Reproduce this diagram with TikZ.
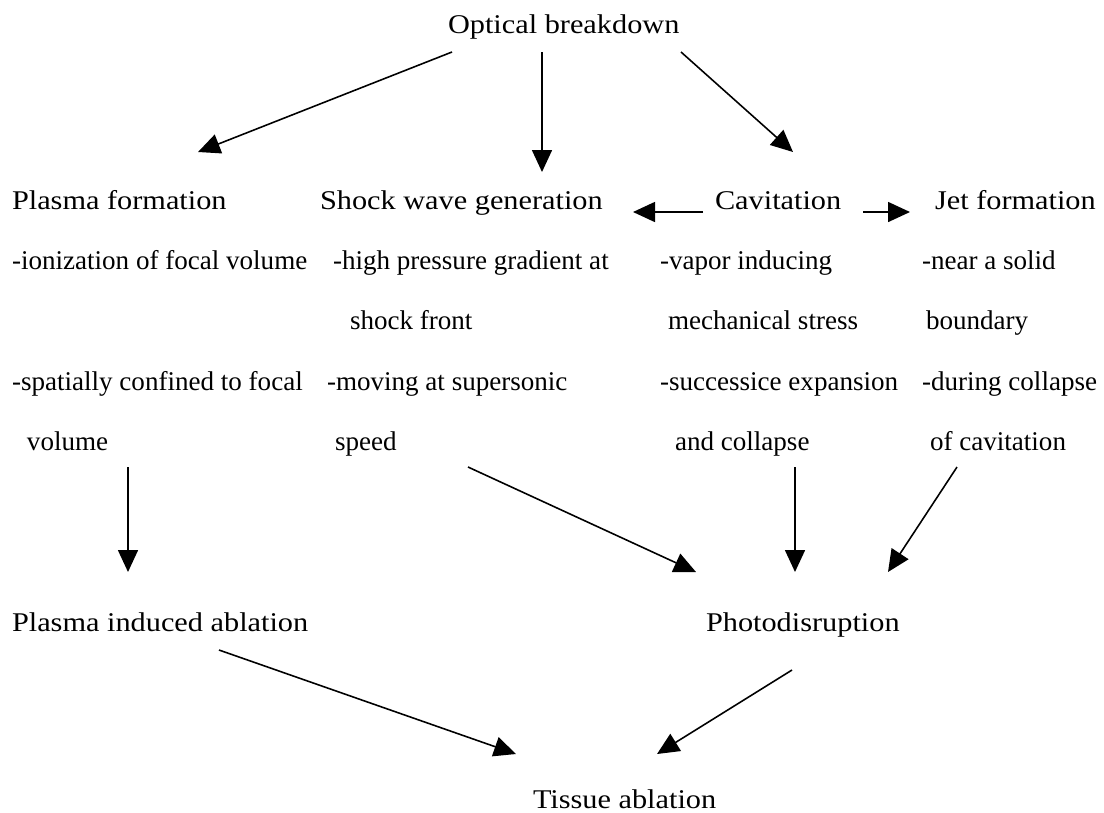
\documentclass[tikz,border=0pt]{standalone}
\usepackage{fontspec}
\setmainfont{Liberation Serif}[FakeStretch=1.12]
\newfontfamily\itemfont{Liberation Serif}
\usetikzlibrary{arrows.meta}

\begin{document}
\begin{tikzpicture}[
  x=0.02cm, y=-0.02cm,
  % ---- styles ----
  txt/.style={%
    anchor=base west, inner sep=0pt, outer sep=0pt,
    font=\fontsize{15.4}{18}\selectfont,
  },
  itm/.style={%
    txt, font=\itemfont\fontsize{15.4}{18}\selectfont,
  },
  flow/.style={%
    draw=black, line width=0.9pt,
    -{Triangle[length=0.44cm, width=0.4cm]},
  },
]

\useasboundingbox (0,0) rectangle (1104,812);

% =========================================================
% top  --  optical breakdown
% =========================================================
\node[txt] (ob) at (448,33) {Optical breakdown};

% =========================================================
% mechanisms  (headings + bullet lines)
% =========================================================
\node[txt] (pf)  at (12,209)  {Plasma formation};
\node[txt] (sw)  at (320,209) {Shock wave generation};
\node[txt] (cav) at (715,209) {Cavitation};
\node[txt] (jet) at (935,209) {Jet formation};

\node[itm] (pf1) at (12,269)  {-ionization of focal volume};
\node[itm] (pf2) at (12,390)  {-spatially confined to focal};
\node[itm] (pf3) at (27,450)  {volume};

\node[itm] (sw1) at (333,269) {-high pressure gradient at};
\node[itm] (sw2) at (350,329) {shock front};
\node[itm] (sw3) at (327,390) {-moving at supersonic};
\node[itm] (sw4) at (335,450) {speed};

\node[itm] (cv1) at (660,269) {-vapor inducing};
\node[itm] (cv2) at (668,329) {mechanical stress};
\node[itm] (cv3) at (660,390) {-successice expansion};
\node[itm] (cv4) at (675,450) {and collapse};

\node[itm] (jt1) at (922,269) {-near a solid};
\node[itm] (jt2) at (926,329) {boundary};
\node[itm] (jt3) at (922,390) {-during collapse};
\node[itm] (jt4) at (930,450) {of cavitation};

% =========================================================
% outcomes
% =========================================================
\node[txt] (pia)   at (12,631)  {Plasma induced ablation};
\node[txt] (photo) at (706,631) {Photodisruption};
\node[txt] (tis)   at (533,808) {Tissue ablation};

% =========================================================
% connector ends
% =========================================================
\coordinate (obA)   at (452,52);
\coordinate (obB)   at (542,52);
\coordinate (obC)   at (681,52);
\coordinate (pfIn)  at (198,152);
\coordinate (swIn)  at (542,172);
\coordinate (cavIn) at (793,152);

\coordinate (cavL)  at (703,212);
\coordinate (swR)   at (633,212);
\coordinate (cavR)  at (863,212);
\coordinate (jetL)  at (910,212);

\coordinate (pfOut)  at (128,467);
\coordinate (swOut)  at (468,467);
\coordinate (cvOut)  at (795,467);
\coordinate (jtOut)  at (957,467);
\coordinate (piaIn)  at (128,572);
\coordinate (phIn1)  at (696,572);
\coordinate (phIn2)  at (795,572);
\coordinate (phIn3)  at (888,572);

\coordinate (piaOut) at (219,650);
\coordinate (phOut)  at (792,670);
\coordinate (tisIn1) at (516,754);
\coordinate (tisIn2) at (657,754);

% =========================================================
% arrows
% =========================================================
\draw[flow] (obA) -- (pfIn);
\draw[flow] (obB) -- (swIn);
\draw[flow] (obC) -- (cavIn);

\draw[flow] (cavL) -- (swR);
\draw[flow] (cavR) -- (jetL);

\draw[flow] (pfOut) -- (piaIn);
\draw[flow] (swOut) -- (phIn1);
\draw[flow] (cvOut) -- (phIn2);
\draw[flow] (jtOut) -- (phIn3);

\draw[flow] (piaOut) -- (tisIn1);
\draw[flow] (phOut)  -- (tisIn2);

\end{tikzpicture}
\end{document}
